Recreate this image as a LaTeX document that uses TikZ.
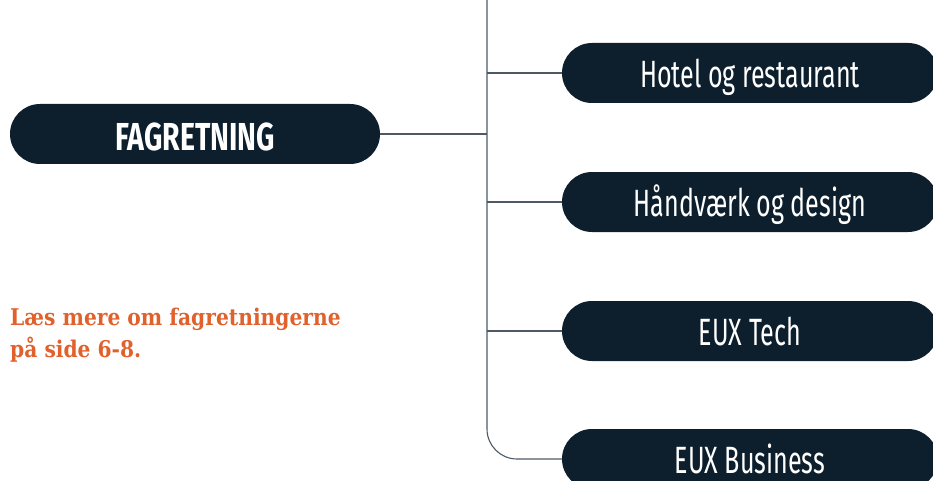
\documentclass[tikz,border=0pt]{standalone}
\usepackage{fontspec}
\newfontfamily\pillfont[FakeStretch=0.66]{Fira Sans}
\newfontfamily\headfont[FakeStretch=0.73]{Fira Sans}
\newfontfamily\notefont[FakeStretch=0.88]{DejaVu Serif}
\definecolor{navy}{HTML}{0D1F2D}
\definecolor{linegray}{HTML}{4D5966}
\definecolor{noteorange}{HTML}{E0612C}
\tikzset{
  pill/.style={fill=navy, rounded corners=30pt, minimum height=60pt, inner sep=0pt, text=white, text depth=0pt},
  leaf/.style={pill, minimum width=376pt, text height=29pt, font=\pillfont\fontsize{38}{40}\selectfont},
  conn/.style={draw=linegray, line width=1.1pt}
}
\begin{document}
\begin{tikzpicture}[x=1pt,y=-1pt]
\useasboundingbox (0,0) rectangle (933,481);
\node[pill, minimum width=370pt, text height=32pt, font=\headfont\bfseries\fontsize{39}{40}\selectfont] (fag) at (195,134) {FAGRETNING};
\node[leaf] (b1) at (750,73) {Hotel og restaurant};
\node[leaf] (b2) at (750,202) {Håndværk og design};
\node[leaf] (b3) at (750,331) {EUX Tech};
\node[leaf] (b4) at (750,459) {EUX Business};
\coordinate (top) at (487,0);
\draw[conn, rounded corners=30pt] (top) |- (b4.west);
\draw[conn] (top |- b1.west) -- (b1.west);
\draw[conn] (top |- b2.west) -- (b2.west);
\draw[conn] (top |- b3.west) -- (b3.west);
\draw[conn] (fag.east) -- (top |- fag.east);
\node[anchor=base west, inner sep=0pt, text=noteorange, font=\notefont\bfseries\fontsize{23}{32}\selectfont] (note) at (10,325)
  {\begin{tabular}[t]{@{}l@{}}Læs mere om fagretningerne\\på side 6-8.\end{tabular}};
\end{tikzpicture}
\end{document}
